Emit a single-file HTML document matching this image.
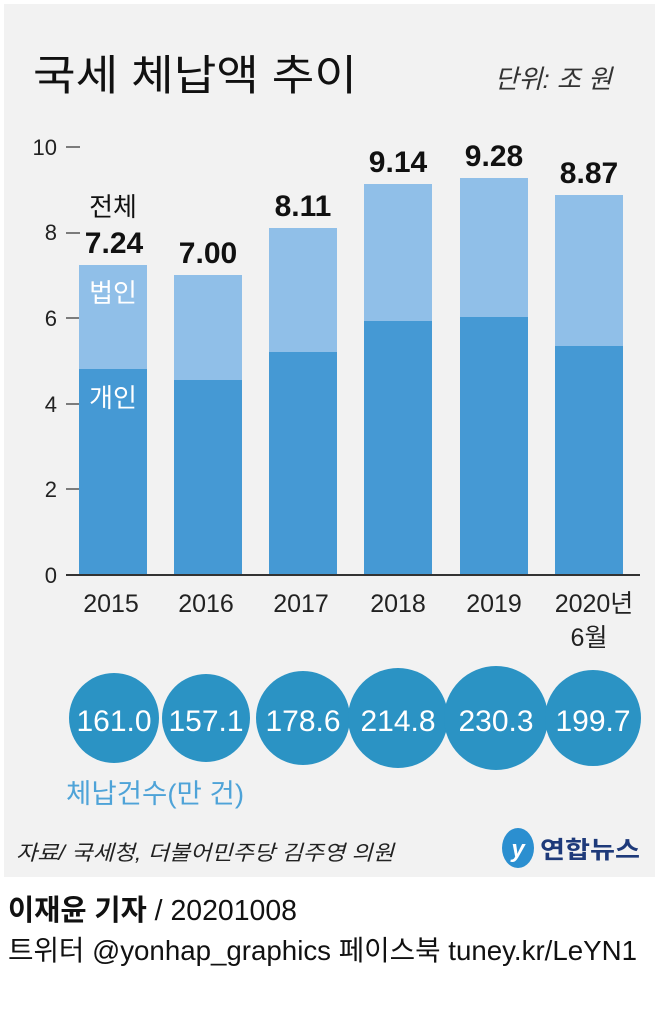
<!DOCTYPE html>
<html><head><meta charset="utf-8"><style>
body{margin:0;width:659px;height:1006px;background:#fff;overflow:hidden;font-family:"Liberation Sans","Noto Sans CJK KR",sans-serif;}
</style></head><body>
<svg width="659" height="1006" xmlns="http://www.w3.org/2000/svg" font-family="Liberation Sans, Noto Sans CJK KR, sans-serif">
<rect x="4" y="4" width="651" height="873" fill="#f2f2f2"/>
<text x="33" y="90" font-size="42" fill="#111" textLength="324" lengthAdjust="spacingAndGlyphs">국세 체납액 추이</text>
<text x="612" y="88" font-size="26" fill="#333" font-style="italic" text-anchor="end">단위: 조 원</text>
<g font-size="22" fill="#222" text-anchor="end">
<text x="57" y="155">10</text><text x="57" y="240">8</text><text x="57" y="326">6</text>
<text x="57" y="412">4</text><text x="57" y="497">2</text><text x="57" y="583">0</text>
</g>
<g stroke="#555" stroke-width="1.5">
<line x1="66" x2="80" y1="147" y2="147"/><line x1="66" x2="80" y1="233" y2="233"/>
<line x1="66" x2="80" y1="318" y2="318"/><line x1="66" x2="80" y1="404" y2="404"/>
<line x1="66" x2="80" y1="489" y2="489"/>
</g>
<g fill="#90bfe8">
<rect x="79" y="265" width="68" height="310"/><rect x="174" y="275" width="68" height="300"/>
<rect x="269" y="228" width="68" height="347"/><rect x="364" y="184" width="68" height="391"/>
<rect x="460" y="178" width="68" height="397"/><rect x="555" y="195" width="68" height="380"/>
</g>
<g fill="#4599d4">
<rect x="79" y="369" width="68" height="206"/><rect x="174" y="380" width="68" height="195"/>
<rect x="269" y="352" width="68" height="223"/><rect x="364" y="321" width="68" height="254"/>
<rect x="460" y="317" width="68" height="258"/><rect x="555" y="346" width="68" height="229"/>
</g>
<line x1="66" x2="640" y1="575" y2="575" stroke="#333" stroke-width="2"/>
<g font-size="30" font-weight="bold" fill="#111" text-anchor="middle">
<text x="114" y="253">7.24</text><text x="208" y="263">7.00</text><text x="303" y="216">8.11</text>
<text x="398" y="172">9.14</text><text x="494" y="166">9.28</text><text x="589" y="183">8.87</text>
</g>
<text x="113" y="216" font-size="26" fill="#111" text-anchor="middle">전체</text>
<text x="113" y="302" font-size="26" fill="#fff" text-anchor="middle">법인</text>
<text x="113" y="407" font-size="26" fill="#fff" text-anchor="middle">개인</text>
<g font-size="25" fill="#222" text-anchor="middle">
<text x="111" y="612">2015</text><text x="206" y="612">2016</text><text x="301" y="612">2017</text>
<text x="398" y="612">2018</text><text x="494" y="612">2019</text><text x="594" y="612">2020년</text>
<text x="589" y="646">6월</text>
</g>
<g fill="#2b93c4">
<circle cx="114" cy="718" r="45"/><circle cx="206" cy="718" r="44"/><circle cx="303" cy="718" r="47"/>
<circle cx="398" cy="718" r="50"/><circle cx="496" cy="718" r="52"/><circle cx="593" cy="718" r="48"/>
</g>
<g font-size="30" fill="#fff" text-anchor="middle">
<text x="114" y="731">161.0</text><text x="206" y="731">157.1</text><text x="303" y="731">178.6</text>
<text x="398" y="731">214.8</text><text x="496" y="731">230.3</text><text x="593" y="731">199.7</text>
</g>
<text x="66" y="803" font-size="27" fill="#4ea3d8" textLength="178" lengthAdjust="spacingAndGlyphs">체납건수(만 건)</text>
<text x="16" y="860" font-size="21" font-style="italic" fill="#222" textLength="378" lengthAdjust="spacingAndGlyphs">자료/ 국세청, 더불어민주당 김주영 의원</text>
<ellipse cx="518" cy="848" rx="16" ry="20" fill="#2b8fd0"/>
<text x="518" y="857" font-size="24" font-weight="bold" font-style="italic" fill="#fff" text-anchor="middle">y</text>
<text x="540" y="858" font-size="24" font-weight="bold" fill="#1e3a7a" textLength="100" lengthAdjust="spacingAndGlyphs">연합뉴스</text>
<text x="8" y="920" font-size="29" fill="#111" textLength="289" lengthAdjust="spacingAndGlyphs"><tspan font-weight="bold">이재윤 기자</tspan> / 20201008</text>
<text x="8" y="960" font-size="28" fill="#111" textLength="629" lengthAdjust="spacingAndGlyphs">트위터 @yonhap_graphics  페이스북 tuney.kr/LeYN1</text>
</svg>
</body></html>
